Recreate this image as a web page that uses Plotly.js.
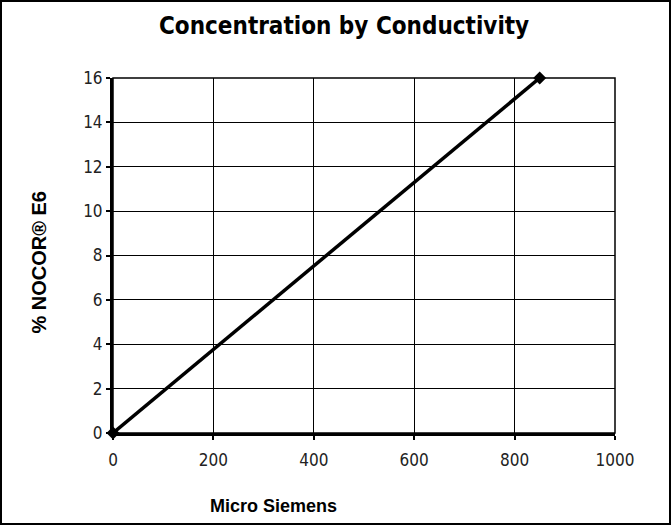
<!DOCTYPE html>
<html>
<head>
<meta charset="utf-8">
<script src="https://cdn.plot.ly/plotly-3.0.1.min.js"></script>
<style>
html,body{margin:0;padding:0;background:#fff;}
#wrap{width:671px;height:525px;box-sizing:border-box;border:2px solid #000;overflow:hidden;}
#chart{width:667px;height:521px;}
</style>
</head>
<body>
<div id="wrap"><div id="chart"></div></div>
<script>
const xValues = [0, 850];
const yValues = [0, 16];
const xTicks = [0, 200, 400, 600, 800, 1000];
const yTicks = [0, 2, 4, 6, 8, 10, 12, 14, 16];
const chartTitle = "Concentration by Conductivity";
const xTitle = "Micro Siemens";
const yTitle = "% NOCOR® E6";

const trace = {
  x: xValues, y: yValues, type: "scatter", mode: "lines+markers",
  line: {color: "#000", width: 3.5},
  marker: {symbol: "diamond", size: 10, color: "#000"},
  hoverinfo: "skip", cliponaxis: false
};

const tickFont = {family: "DejaVu Sans Condensed, Arial, sans-serif", size: 17, color: "#222"};

const layout = {
  width: 667, height: 521,
  margin: {l: 111, r: 54, t: 76, b: 90},
  paper_bgcolor: "#fff", plot_bgcolor: "#fff",
  showlegend: false,
  xaxis: {
    range: [0, 1000], tickvals: xTicks, ticktext: xTicks.map(String),
    showgrid: true, gridcolor: "#000", gridwidth: 1,
    zeroline: false, showline: true, linecolor: "#000", linewidth: 3,
    ticks: "outside", ticklen: 4, tickwidth: 2, tickcolor: "#000",
    ticklabelstandoff: 6,
    tickfont: tickFont, fixedrange: true
  },
  yaxis: {
    range: [0, 16], tickvals: yTicks, ticktext: yTicks.map(String),
    showgrid: true, gridcolor: "#000", gridwidth: 1,
    zeroline: false, showline: true, linecolor: "#000", linewidth: 3,
    ticks: "outside", ticklen: 4, tickwidth: 2, tickcolor: "#000",
    tickfont: tickFont, fixedrange: true
  },
  shapes: [{
    type: "rect", xref: "paper", yref: "paper", x0: 0, x1: 1, y0: 0, y1: 1,
    line: {color: "#000", width: 1.5}, layer: "below"
  }],
  annotations: [
    {text: "<b>" + chartTitle + "</b>", xref: "paper", yref: "paper",
     x: 0.46, y: 1, yshift: 52, xanchor: "center", yanchor: "middle", showarrow: false,
     font: {family: "DejaVu Sans Condensed, Arial Narrow, sans-serif", size: 24, color: "#000"}},
    {text: "<b>" + xTitle + "</b>", xref: "paper", yref: "paper",
     x: 0.32, y: 0, yshift: -73, xanchor: "center", yanchor: "middle", showarrow: false,
     font: {family: "Liberation Sans, Arial, sans-serif", size: 18, color: "#000"}},
    {text: "<b>" + yTitle + "</b>", xref: "paper", yref: "paper",
     x: 0, xshift: -74, y: 0.48, xanchor: "center", yanchor: "middle", showarrow: false, textangle: -90,
     font: {family: "Liberation Sans, Arial, sans-serif", size: 20, color: "#000"}}
  ]
};

Plotly.newPlot("chart", [trace], layout, {displayModeBar: false, staticPlot: true});
</script>
</body>
</html>
